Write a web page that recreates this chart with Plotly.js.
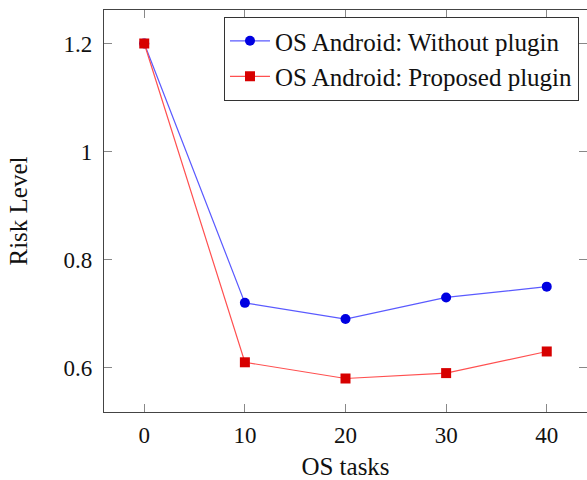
<!DOCTYPE html>
<html>
<head>
<meta charset="utf-8">
<script src="https://cdn.plot.ly/plotly-3.0.1.min.js"></script>
<style>
html,body{margin:0;padding:0;background:#fff;overflow:hidden;}
#chart{width:587px;height:480px;}
</style>
</head>
<body>
<div id="chart"></div>
<script>
const osTasks = [0, 10, 20, 30, 40];
const withoutPlugin = [1.2, 0.72, 0.69, 0.73, 0.75];
const proposedPlugin = [1.2, 0.61, 0.58, 0.59, 0.63];
const seriesNames = ['OS Android: Without plugin', 'OS Android: Proposed plugin'];
const xTicks = [0, 10, 20, 30, 40];
const yTicks = [0.6, 0.8, 1, 1.2];
const yTickText = ['0.6', '0.8', '1', '1.2'];

const FONT = 'Liberation Serif, Times New Roman, serif';

const traces = [
  {
    x: osTasks, y: withoutPlugin, name: seriesNames[0],
    type: 'scatter', mode: 'lines+markers',
    line: {color: 'rgb(90,90,255)', width: 1.2},
    marker: {symbol: 'circle', size: 10, color: 'rgb(0,0,225)'}
  },
  {
    x: osTasks, y: proposedPlugin, name: seriesNames[1],
    type: 'scatter', mode: 'lines+markers',
    line: {color: 'rgb(255,80,80)', width: 1.2},
    marker: {symbol: 'square', size: 10, color: 'rgb(215,0,0)'}
  }
];

const axisCommon = {
  showgrid: false, zeroline: false,
  showline: true, linecolor: '#444', linewidth: 1.2, mirror: 'allticks',
  ticks: 'inside', ticklen: 8, tickcolor: '#888', tickwidth: 1,
  tickfont: {family: FONT, size: 23, color: '#111'}
};

const layout = {
  width: 587, height: 480,
  margin: {l: 104, r: 0, t: 10, b: 68},
  paper_bgcolor: '#fff', plot_bgcolor: '#fff',
  font: {family: FONT, size: 23, color: '#111'},
  xaxis: Object.assign({}, axisCommon, {
    range: [-4, 44], tickvals: xTicks, ticklabelstandoff: 2,
    title: {text: 'OS tasks', font: {family: FONT, size: 25, color: '#111'}, standoff: 14}
  }),
  yaxis: Object.assign({}, axisCommon, {
    range: [0.518, 1.262], tickvals: yTicks, ticktext: yTickText, ticklabelstandoff: 6,
    title: {text: 'Risk Level', font: {family: FONT, size: 25, color: '#111'}, standoff: 28}
  }),
  showlegend: true,
  legend: {
    x: 0.983, xanchor: 'right', y: 0.983, yanchor: 'top',
    bgcolor: '#fff', bordercolor: '#333', borderwidth: 1.2,
    font: {family: FONT, size: 25, color: '#111'},
    tracegroupgap: 0, itemwidth: 40
  }
};

Plotly.newPlot('chart', traces, layout, {displayModeBar: false, staticPlot: true});
</script>
</body>
</html>
